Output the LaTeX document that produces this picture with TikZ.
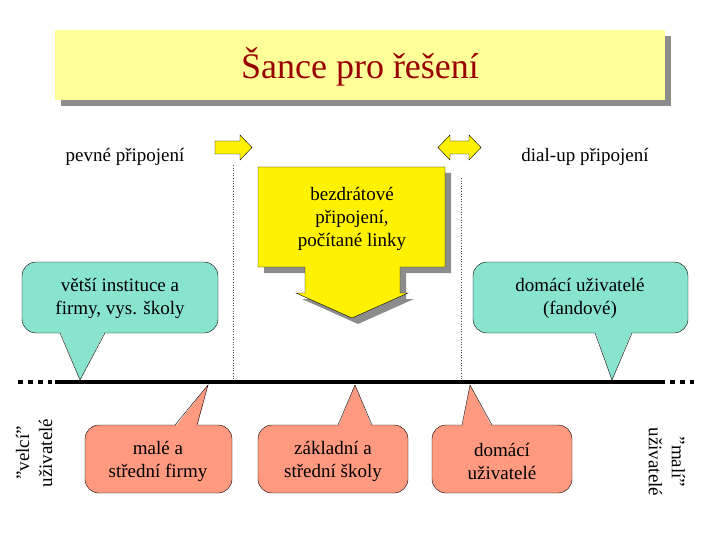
\documentclass[tikz,border=0pt]{standalone}
\usepackage{fontspec}
\setmainfont{Liberation Serif}
\begin{document}
\begin{tikzpicture}[x=1pt,y=-1pt,
  txt/.style={font=\fontsize{19}{23}\selectfont, align=center, inner sep=0},
  teal/.style={fill=teal!30!green!30!cyan!35!white, draw=black},
  salm/.style={fill=red!35!orange!50!white, draw=black},
  shad/.style={fill=black!45, draw=none},
  ylw/.style={fill=yellow, draw=black},
  dotl/.style={black!70, dotted, line width=0.6pt}]
\useasboundingbox (0,0) rectangle (720,540);
\definecolor{tealc}{HTML}{88E4CC}
\definecolor{salmc}{HTML}{FF9A80}
\definecolor{lyel}{HTML}{FFFF99}
% title
\fill[black!45] (61,36) rectangle (671,106);
\fill[lyel] (55,30) rectangle (665,100);
\node[font=\fontsize{36}{40}\selectfont, text={rgb,255:red,153;green,0;blue,0}] (title) at (360,67) {Šance pro řešení};
% labels
\node[txt] (pevne) at (125,157) {pevné připojení};
\node[txt] (dial) at (585,157) {dial-up připojení};
% small arrows
\draw[ylw] (215,141) -- (240,141) -- (240,135) -- (252,147.5) -- (240,160) -- (240,154) -- (215,154) -- cycle;
\draw[ylw] (438,147.5) -- (450,135) -- (450,141) -- (469,141) -- (469,135) -- (481,147.5) -- (469,160) -- (469,154) -- (450,154) -- (450,160) -- cycle;
% dotted verticals
\draw[dotl] (233,165) -- (233,380);
\draw[dotl] (461,178) -- (461,380);
% big arrow
\fill[black!45] (264,173) -- (451,173) -- (451,273) -- (406,273) -- (406,299) -- (414,299) -- (358,324) -- (302,299) -- (311,299) -- (311,273) -- (264,273) -- cycle;
\draw[ylw] (258,167) -- (445,167) -- (445,267) -- (400,267) -- (400,293) -- (408,293) -- (352,318) -- (296,293) -- (305,293) -- (305,267) -- (258,267) -- cycle;
\node[txt] (bezd) at (352,219) {bezdrátové\\připojení,\\počítané linky};
% main line
\draw[line width=4pt] (55,382) -- (665,382);
\draw[line width=4pt, dash pattern=on 5pt off 5pt] (18,382) -- (52,382);
\draw[line width=4pt, dash pattern=on 5pt off 5pt] (670,382) -- (694,382);
% teal callouts
\draw[fill=tealc, rounded corners=14] (22,262) rectangle (218,333);
\fill[tealc] (60,331) -- (80,380) -- (105,331) -- cycle;
\draw (60,333) -- (80,380) -- (105,333);
\node[txt] (big) at (120,298) {větší instituce a\\firmy, vys. školy};
\draw[fill=tealc, rounded corners=14] (473,262) rectangle (688,333);
\fill[tealc] (595,331) -- (612,380) -- (632,331) -- cycle;
\draw (595,333) -- (612,380) -- (632,333);
\node[txt] (home1) at (580,298) {domácí uživatelé\\(fandové)};
% salmon callouts
\draw[fill=salmc, rounded corners=14] (85,425) rectangle (232,493);
\fill[salmc] (175,427) -- (208,385) -- (197,427) -- cycle;
\draw (175,425) -- (208,385) -- (197,425);
\node[txt] (male) at (158,461) {malé a\\střední firmy};
\draw[fill=salmc, rounded corners=14] (258,425) rectangle (408,493);
\fill[salmc] (338,427) -- (355,385) -- (372,427) -- cycle;
\draw (338,425) -- (355,385) -- (372,425);
\node[txt] (zakl) at (333,461) {základní a\\střední školy};
\draw[fill=salmc, rounded corners=14] (432,425) rectangle (572,493);
\fill[salmc] (462,427) -- (470,385) -- (492,427) -- cycle;
\draw (462,425) -- (470,385) -- (492,425);
\node[txt] (dom) at (502,461) {domácí\\uživatelé};
% rotated side labels
\node[txt, rotate=90] (velci) at (34,453) {"velcí"\\uživatelé};
\node[txt, rotate=-90] (mali) at (667,462) {"malí"\\uživatelé};
\end{tikzpicture}
\end{document}
